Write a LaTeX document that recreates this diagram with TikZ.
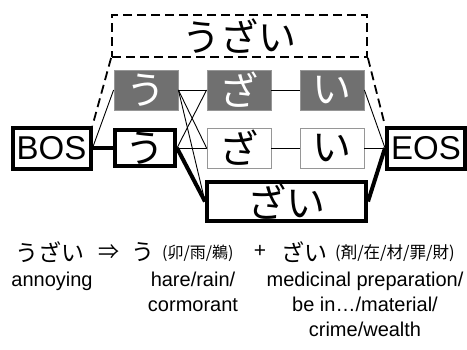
\documentclass[tikz,border=0pt]{standalone}
\usepackage{fontspec}
\usepackage{xcolor}
\usepackage{graphicx}
\usetikzlibrary{positioning,calc}
\setmainfont{Liberation Sans}
\newfontfamily\jp{Noto Sans CJK JP}
\definecolor{grigiopieno}{RGB}{112,112,112}
\definecolor{bordogrigio}{RGB}{150,150,150}

\tikzset{
  nodo/.style={rectangle, minimum width=64pt, minimum height=40pt, inner sep=0pt,
    font=\jp\fontsize{39}{39}\selectfont},
  grigio/.style={nodo, fill=grigiopieno, draw=bordogrigio, line width=0.8pt, text=white},
  bianco/.style={nodo, fill=white, draw=bordogrigio, line width=0.8pt},
  spesso/.style={nodo, fill=white, draw=black, line width=4pt},
  estremo/.style={spesso, minimum width=78pt, minimum height=41pt,
    font=\fontsize{33}{33}\selectfont},
  arco/.style={line width=0.9pt},
  arcospesso/.style={line width=4pt},
  tratteggio/.style={line width=1.8pt, dash pattern=on 9pt off 5pt},
  testo/.style={inner sep=0pt, font=\fontsize{20}{25}\selectfont, align=center}
}

\begin{document}
\begin{tikzpicture}[x=1pt,y=-1pt]
  \useasboundingbox (0,0) rectangle (467,349);

  % Parola intera
  \node[nodo, tratteggio, draw, minimum width=255pt, minimum height=42pt,
    font=\jp\fontsize{38}{38}\selectfont] (parola) at (239.5,36) {うざい};

  % Riga grigia
  \node[grigio] (gu) at (146,90) {う};
  \node[grigio] (gza) at (239,90) {ざ};
  \node[grigio] (gi) at (332,90) {い};

  % Riga centrale
  \node[estremo] (bos) at (51.5,148) {BOS};
  \node[spesso, minimum width=60pt, minimum height=36pt] (wu) at (145,148) {う};
  \node[bianco] (wza) at (239,148) {ざ};
  \node[bianco] (wi) at (332,148) {い};
  \node[estremo] (eos) at (426,148) {EOS};

  % Nodo in basso
  \node[spesso, minimum width=159pt, minimum height=39pt] (zai) at (286.5,201.5) {ざい};

  % Archi
  \draw[tratteggio] (parola.south west) -- (bos.north east);
  \draw[tratteggio] (parola.south east) -- (eos.north west);
  \draw[arco] (bos.east) -- (gu.west);
  \draw[arcospesso] (bos.east) -- (wu.west);
  \draw[arco] (gu.east) -- (gza.west);
  \draw[arco] (gu.east) -- (wza.west);
  \draw[arco] (gu.east) -- (zai.west);
  \draw[arco] (wu.east) -- (gza.west);
  \draw[arco] (wu.east) -- (wza.west);
  \draw[arcospesso] (wu.east) -- (zai.west);
  \draw[arco] (gza.east) -- (gi.west);
  \draw[arco] (wza.east) -- (wi.west);
  \draw[arco] (gi.east) -- (eos.west);
  \draw[arco] (wi.east) -- (eos.west);
  \draw[arcospesso] (zai.east) -- (eos.west);

  % Didascalia
  \node[testo, font=\jp\fontsize{23}{23}\selectfont] (t1) at (50,252) {うざい};
  \node[testo, font=\jp\fontsize{21}{21}\selectfont] (freccia) at (109,252) {⇒};
  \node[testo, font=\jp\fontsize{23}{23}\selectfont, anchor=west] (t2) at (131,252) {う};
  \node[testo, font=\jp\fontsize{16}{16}\selectfont, anchor=west] (k1) at (162,253) {(卯/雨/鵜)};
  \node[testo, font=\fontsize{21}{21}\selectfont] (piu) at (260,251) {+};
  \node[testo, font=\jp\fontsize{23}{23}\selectfont, anchor=west] (t3) at (281,252) {ざい};
  \node[testo, font=\jp\fontsize{16.5}{16.5}\selectfont, anchor=west] (k2) at (335,253) {(剤/在/材/罪/財)};

  \node[testo, anchor=north] (s1) at (52,272) {annoying};
  \node[testo, anchor=north] (s2) at (193,272) {hare/rain/\\cormorant};
  \node[testo, anchor=north] (s3) at (365,272) {medicinal preparation/\\be in…/material/\\crime/wealth};
\end{tikzpicture}
\end{document}
